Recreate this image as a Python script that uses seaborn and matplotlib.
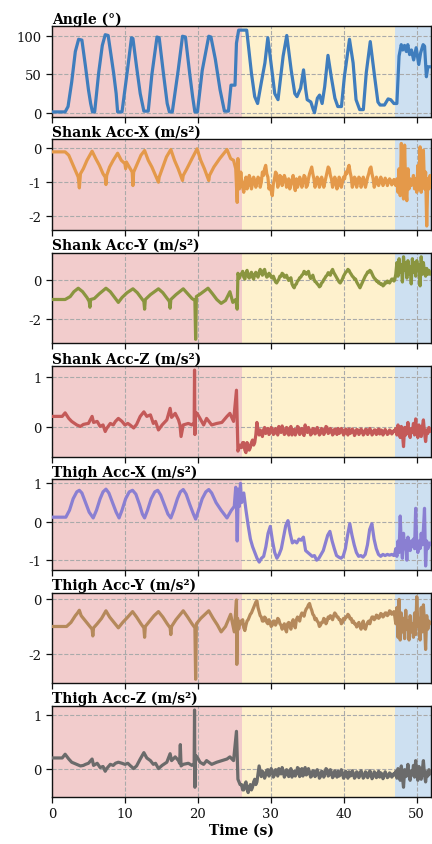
import numpy as np
import pandas as pd
import matplotlib
matplotlib.use("Agg")
import matplotlib.pyplot as plt
import seaborn as sns

# ---------------- data ----------------
titles = ["Angle (°)", "Shank Acc-X (m/s²)", "Shank Acc-Y (m/s²)", "Shank Acc-Z (m/s²)",
          "Thigh Acc-X (m/s²)", "Thigh Acc-Y (m/s²)", "Thigh Acc-Z (m/s²)"]
line_colors = ["#3f7dbd", "#e4994a", "#8a953f", "#c45a59", "#8a7fd2", "#b5895b", "#6b6b6b"]
yticks_list = [[0, 50, 100], [-2, -1, 0], [-2, 0], [0, 1], [-1, 0, 1], [-2, 0], [0, 1]]
phase_bounds = [0, 26, 47, 52]
phase_colors = ["#f2cccc", "#fef1cd", "#cde0f1"]
x_ticks = [0, 10, 20, 30, 40, 50]

angle_t = [0, 1.8, 2.2, 2.7, 3.2, 3.65, 4.1, 4.6, 5.0, 5.3, 5.55, 5.85, 6.4, 6.9, 7.3, 7.7, 8.1, 8.45,
           8.8, 9.0, 9.6, 10.3, 10.9, 11.1, 11.6, 12.1, 12.6, 13.2, 13.7, 14.4, 14.7, 15.3, 15.8, 16.1,
           16.5, 17.3, 17.9, 18.3, 18.9, 19.3, 19.6, 19.95, 20.6, 21.5, 21.8, 22.4, 23.05, 23.65, 24.2,
           24.55, 25.1, 25.3, 25.6, 26.7, 26.9, 27.35, 27.8, 28.2, 28.7, 29.2, 29.6, 30.1, 30.55, 31.0,
           31.7, 32.2, 32.8, 33.3, 33.6, 34.1, 34.5, 34.8, 35.0, 35.5, 35.8, 36.0, 36.4, 36.7, 37.05,
           37.4, 37.85, 38.3, 38.8, 39.2, 39.7, 40.1, 40.8, 41.3, 41.7, 42.2, 42.7, 43.1, 43.65, 44.25,
           44.7, 45.0, 45.6, 46.1, 46.45, 46.9, 47.3, 47.6, 47.9, 48.1, 48.35, 48.6, 48.8, 49.05, 49.3,
           49.6, 49.95, 50.3, 50.55, 50.9, 51.1, 51.35, 51.55, 52.0]
angle_v = [1, 1, 8, 40, 80, 96, 95, 60, 30, 12, 1, 1, 52, 88, 102, 101, 75, 52, 25, 1, 1, 52, 98, 97,
           60, 25, 2, 2, 50, 99, 98, 50, 12, 1, 1, 55, 100, 99, 50, 20, 1, 1, 55, 100, 99, 70, 30, 2, 2,
           36, 36, 91, 108, 108, 91, 52, 21, 12, 39, 65, 98, 60, 25, 17, 74, 101, 56, 25, 21, 32, 56, 30,
           17, 14, 5, 0, 19, 23, 12, 34, 75, 47, 19, 8, 8, 47, 96, 65, 17, 4, 4, 52, 93, 47, 14, 10, 10,
           18, 17, 12, 12, 74, 89, 82, 88, 80, 89, 76, 82, 69, 85, 63, 78, 89, 87, 47, 60, 60]

# Accelerations: walking-phase keypoints (time, value); then evenly spaced samples over
# 26-46.9 s (stairs phase) and 47-52 s (last phase).
sx_walk_t = [0, 1.8, 2.3, 2.8, 3.3, 3.6, 3.75, 3.9, 4.3, 4.8, 5.5, 6.0, 6.5, 7.0, 7.3, 7.4, 7.5, 7.9,
             8.4, 9.0, 9.5, 10.0, 10.1, 10.2, 10.6, 11.0, 11.1, 11.2, 11.7, 12.2, 12.7, 13.2, 13.7,
             14.2, 14.6, 14.7, 15.2, 15.7, 16.3, 16.8, 17.3, 17.9, 18.0, 18.5, 19.2, 19.9, 20.4, 20.9,
             21.5, 21.6, 22.2, 23.0, 24.0, 24.5, 24.9, 25.2, 25.4, 25.5, 25.7, 25.9]
sx_walk_v = [-0.1, -0.1, -0.2, -0.45, -0.7, -0.85, -1.17, -0.75, -0.6, -0.35, -0.08, -0.3, -0.5,
             -0.75, -0.85, -1.07, -0.8, -0.55, -0.35, -0.14, -0.35, -0.45, -0.6, -0.4, -0.55, -0.7,
             -1.1, -0.7, -0.45, -0.2, -0.06, -0.35, -0.55, -0.8, -1.0, -0.85, -0.55, -0.25, -0.03,
             -0.35, -0.6, -0.95, -0.8, -0.6, -0.3, -0.01, -0.35, -0.6, -0.95, -0.8, -0.55, -0.3, -0.03,
             -0.3, -0.35, -0.6, -1.6, -0.3, -1.2, -0.7]
sx_mid_v = [-0.95, -1.15, -1.3, -1.0, -0.85, -1.2, -1.1, -0.8, -0.9, -1.2, -1.05, -0.85, -0.95, -1.15,
            -1.0, -0.85, -0.9, -1.15, -1.0, -0.7, -0.8, -0.6, -0.5, -0.75, -0.85, -1.2, -1.1, -1.25,
            -1.4, -1.05, -0.9, -0.7, -0.75, -1.15, -1.0, -0.8, -0.85, -1.1, -0.95, -0.8, -0.9, -1.15,
            -1.05, -0.9, -1.2, -1.05, -0.95, -0.8, -1.1, -1.25, -0.9, -1.15, -1.05, -0.85, -0.95, -1.15,
            -1.0, -0.8, -0.85, -1.15, -1.1, -0.9, -0.75, -0.65, -0.55, -0.75, -0.9, -1.15, -1.05, -0.85,
            -0.9, -1.15, -1.05, -0.85, -0.95, -1.15, -1.0, -0.85, -0.7, -0.55, -0.6, -0.8, -0.9, -1.15,
            -1.05, -0.85, -0.95, -1.2, -1.1, -0.85, -0.95, -1.15, -1.0, -0.85, -0.9, -0.7, -0.75, -0.6,
            -0.5, -0.7, -0.85, -1.15, -1.05, -0.85, -0.9, -1.15, -1.0, -0.85, -0.9, -1.15, -1.05, -0.85,
            -0.95, -1.15, -1.0, -0.85, -0.75, -0.6, -0.55, -0.75, -0.9, -1.15, -1.05, -0.85, -0.95,
            -1.1, -1.0, -0.85, -0.95, -1.1, -1.0, -0.88, -0.95, -1.1, -1.0, -0.9, -0.95, -1.08, -1.0,
            -0.92]
sx_end_v = [-1.0, -1.1, -0.9, -1.3, -0.6, -1.4, 0.15, -1.0, -1.5, 0.1, -1.2, -1.55, -0.6, -1.2, -0.9,
            -1.1, -1.0, -0.8, -1.2, -0.9, -1.3, -0.5, -1.2, 0.05, -1.3, -0.8, -0.05, -1.2, -0.7, -2.3,
            -0.9, -1.2, -0.8, -1.0]

sy_walk_t = [0, 1.8, 2.5, 3.0, 3.6, 4.2, 4.8, 5.1, 5.2, 5.3, 5.8, 6.5, 7.4, 8.0, 8.6, 9.1, 9.6, 10.3,
             11.1, 11.7, 12.3, 12.6, 12.7, 12.8, 13.5, 14.6, 15.2, 15.8, 16.1, 16.2, 16.3, 17.0, 18.0,
             18.6, 19.2, 19.6, 19.7, 19.8, 20.4, 21.4, 22.0, 22.6, 23.2, 23.8, 24.4, 24.8, 25.2, 25.4,
             25.5, 25.7, 25.9]
sy_walk_v = [-1.0, -1.0, -0.85, -0.6, -0.42, -0.6, -0.9, -1.1, -1.4, -1.0, -0.95, -0.7, -0.42, -0.6,
             -0.9, -1.15, -0.9, -0.65, -0.45, -0.65, -0.95, -1.1, -1.5, -1.0, -0.75, -0.45, -0.65,
             -0.95, -1.1, -1.45, -1.0, -0.75, -0.45, -0.7, -0.95, -1.05, -3.05, -0.85, -0.7, -0.42,
             -0.7, -1.0, -1.2, -1.05, -0.6, -1.15, -1.0, -1.5, 0.35, 0.1, 0.3]
sy_mid_v = [0.3, 0.45, 0.15, 0.05, 0.35, 0.5, 0.2, 0.1, 0.3, 0.4, 0.15, 0.05, 0.3, 0.4, 0.25, 0.15,
            0.4, 0.55, 0.35, 0.25, 0.48, 0.55, 0.3, 0.15, 0.2, 0.35, 0.3, 0.15, 0.1, 0.2, 0.05, -0.1,
            -0.15, -0.05, 0.05, 0.2, 0.2, 0.35, 0.3, 0.15, 0.15, 0.25, 0.1, -0.02, 0.05, 0.12, -0.2,
            -0.32, -0.4, -0.25, -0.2, -0.05, 0.0, 0.12, 0.15, 0.25, 0.3, 0.45, 0.4, 0.3, 0.35, 0.45,
            0.2, 0.08, 0.15, 0.25, 0.05, -0.08, -0.1, -0.2, -0.25, -0.35, -0.3, -0.15, -0.1, 0.02, 0.1,
            0.2, 0.25, 0.38, 0.35, 0.25, 0.45, 0.55, 0.4, 0.3, 0.2, 0.1, 0.0, -0.1, -0.15, -0.05, 0.05,
            0.2, 0.3, 0.4, 0.45, 0.55, 0.5, 0.38, 0.3, 0.2, 0.15, 0.05, 0.05, -0.1, -0.2, -0.3, -0.4,
            -0.28, -0.15, -0.02, 0.1, 0.22, 0.3, 0.42, 0.4, 0.5, 0.45, 0.32, 0.2, 0.1, 0.05, -0.05,
            -0.05, -0.15, -0.15, -0.22, -0.2, -0.3, -0.25, -0.12, -0.15, -0.05, -0.1, -0.15, -0.05,
            0.05, 0.05, -0.05]
sy_end_v = [0.0, 0.3, 0.9, 0.2, 1.1, 0.4, 0.8, -0.1, 1.2, 0.5, 0.9, 0.1, 1.0, 0.3, 0.7, -0.2, 1.1, 0.4,
            0.9, 0.2, 1.0, 0.5, 0.8, -0.3, 1.2, 0.3, 0.9, 0.4, 0.2, 0.6, 0.3, 0.5, 0.3, 0.4]

sz_walk_t = [0, 1.4, 1.8, 2.3, 2.7, 3.4, 3.9, 4.3, 4.6, 5.0, 5.5, 5.7, 6.2, 6.6, 7.0, 7.3, 7.5, 8.0,
             8.4, 8.7, 9.1, 9.6, 10.0, 10.4, 10.7, 11.2, 11.6, 12.1, 12.6, 13.0, 13.5, 13.9, 14.2,
             14.6, 15.1, 15.75, 16.2, 16.4, 16.9, 17.35, 17.55, 17.7, 18.0, 18.7, 19.2, 19.5, 19.55,
             19.6, 19.65, 19.9, 20.3, 20.8, 21.2, 21.9, 22.6, 23.3, 24.0, 24.4, 24.9, 25.3, 25.5, 25.8]
sz_walk_v = [0.22, 0.22, 0.29, 0.18, 0.12, 0.05, 0.02, 0.06, 0.07, 0.08, 0.22, 0.1, 0.12, 0.02, 0.05,
             -0.08, -0.02, 0.08, 0.05, 0.12, 0.18, 0.12, 0.05, 0.08, 0.05, -0.01, 0.06, 0.22, 0.31,
             0.22, 0.25, 0.08, 0.12, -0.05, 0.05, 0.15, 0.38, 0.2, 0.28, 0.15, 0.05, -0.18, 0.05, 0.08,
             0.05, 0.1, 1.14, -0.14, 0.3, 0.28, 0.18, 0.05, 0.18, 0.05, 0.08, 0.1, 0.22, 0.28, 0.12,
             0.74, -0.47, -0.35]
sz_mid_v = [-0.4, -0.3, -0.3, -0.45, -0.5, -0.3, -0.35, -0.45, -0.4, -0.3, -0.25, -0.35, -0.3, -0.15,
            0.1, -0.05, -0.15, -0.05, -0.1, -0.18, -0.05, 0.0, -0.12, -0.05, -0.02, -0.14, -0.1, 0.0,
            -0.03, -0.14, -0.12, -0.02, -0.05, -0.15, 0.02, -0.08, -0.1, 0.03, -0.04, -0.14, -0.12, 0.0,
            -0.02, -0.15, -0.08, 0.02, -0.15, -0.05, -0.04, -0.15, -0.1, 0.02, 0.0, -0.14, -0.08, -0.02,
            -0.12, -0.16, 0.05, -0.06, -0.1, 0.0, -0.05, -0.15, -0.12, -0.02, -0.03, -0.13, -0.1, 0.0,
            -0.06, -0.15, -0.12, -0.02, -0.04, -0.14, -0.09, 0.02, 0.0, -0.12, -0.1, -0.02, -0.05,
            -0.15, -0.12, -0.03, -0.06, -0.14, -0.02, -0.12, -0.1, -0.02, -0.05, -0.15, -0.12, -0.03,
            -0.07, -0.15, -0.03, -0.12, -0.1, -0.03, -0.06, -0.16, -0.12, -0.04, -0.05, -0.14, -0.1,
            -0.03, -0.07, -0.15, -0.12, -0.04, -0.04, -0.14, -0.1, -0.02, -0.07, -0.15, -0.12, -0.05,
            -0.05, -0.14, -0.09, -0.03, -0.13, -0.05, -0.06, -0.15, -0.1, -0.04, -0.08, -0.14, -0.12,
            -0.05, -0.07, -0.13, -0.1, -0.06]
sz_end_v = [-0.08, -0.02, -0.15, 0.05, -0.1, -0.2, 0.02, -0.12, -0.38, 0.0, -0.15, -0.05, 0.1, -0.12,
            -0.2, -0.02, -0.1, 0.08, -0.15, 0.17, -0.05, -0.2, 0.05, -0.1, -0.18, 0.0, 0.15, -0.1,
            -0.28, -0.05, -0.12, 0.0, -0.08, -0.05]

tx_walk_t = [0, 1.9, 2.4, 2.9, 3.4, 3.75, 4.1, 4.6, 5.1, 5.65, 6.1, 6.6, 7.0, 7.4, 7.8, 8.3, 8.8, 9.2,
             9.6, 10.1, 10.6, 11.05, 11.5, 12.0, 12.4, 12.7, 13.1, 13.6, 14.1, 14.5, 14.9, 15.4, 15.9,
             16.3, 16.7, 17.2, 17.6, 18.0, 18.4, 18.9, 19.4, 19.7, 20.1, 20.6, 21.1, 21.5, 21.9, 22.5,
             23.2, 24.0, 24.6, 25.0, 25.2, 25.3, 25.4, 25.55, 25.7, 25.85]
tx_walk_v = [0.12, 0.12, 0.3, 0.6, 0.78, 0.82, 0.75, 0.5, 0.25, 0.1, 0.3, 0.6, 0.78, 0.85, 0.75, 0.5,
             0.25, 0.1, 0.3, 0.6, 0.78, 0.82, 0.72, 0.45, 0.2, 0.1, 0.3, 0.6, 0.78, 0.82, 0.7, 0.45,
             0.2, 0.1, 0.3, 0.6, 0.78, 0.84, 0.72, 0.45, 0.2, 0.07, 0.3, 0.6, 0.78, 0.84, 0.75, 0.5,
             0.3, 0.1, 0.3, 0.4, 0.9, 0.5, -0.5, 0.85, 0.4, 1.0]
tx_mid_v = [0.5, 0.75, 0.3, -0.1, -0.45, -0.65, -0.8, -0.95, -1.05, -0.95, -0.9, -0.65, -0.3, -0.12,
            -0.5, -0.8, -0.95, -0.85, -0.7, -0.4, -0.1, 0.03, -0.3, -0.55, -0.5, -0.55, -0.45, -0.48,
            -0.4, -0.75, -0.8, -0.85, -0.9, -0.88, -1.0, -0.95, -0.85, -0.75, -0.55, -0.35, -0.25,
            -0.5, -0.7, -0.88, -0.92, -0.95, -0.9, -0.7, -0.35, -0.05, -0.35, -0.6, -0.8, -0.9, -0.88,
            -0.92, -0.85, -0.6, -0.2, -0.05, -0.45, -0.7, -0.85, -0.9, -0.85, -0.88, -0.85, -0.87,
            -0.85, -0.88]
tx_end_v = [-0.85, -0.7, -0.9, -0.5, -0.8, 0.15, -0.6, -0.95, -0.3, -0.7, -0.5, -1.0, -0.4, -0.6,
            -0.75, -0.5, -0.65, -0.45, -0.7, 0.35, -0.6, -0.8, -0.5, -0.7, -0.3, -0.6, -0.2, 0.35,
            -1.15, -0.5, -0.7, -0.6, -0.55, -0.6]

ty_walk_t = [0, 2.0, 2.6, 3.2, 3.5, 3.75, 4.0, 4.6, 5.2, 5.5, 5.6, 5.7, 6.2, 6.8, 7.4, 7.9, 8.5, 9.1,
             9.7, 10.4, 11.05, 11.6, 12.2, 12.6, 12.7, 12.8, 13.4, 14.0, 14.6, 15.2, 15.8, 16.2, 16.3,
             16.4, 17.0, 18.0, 18.6, 19.2, 19.6, 19.7, 19.8, 20.4, 21.0, 21.5, 22.1, 22.7, 23.2, 23.8,
             24.5, 25.0, 25.3, 25.35, 25.45, 25.6, 25.85]
ty_walk_v = [-1.0, -1.0, -0.85, -0.6, -0.5, -0.4, -0.6, -0.8, -1.0, -1.1, -1.35, -1.05, -0.9, -0.7,
             -0.42, -0.65, -0.85, -1.05, -0.85, -0.65, -0.45, -0.65, -0.9, -1.05, -1.4, -1.0, -0.8,
             -0.6, -0.45, -0.65, -0.9, -1.05, -1.3, -1.0, -0.75, -0.42, -0.65, -0.9, -1.05, -2.95,
             -0.9, -0.7, -0.55, -0.42, -0.7, -0.95, -1.2, -1.0, -0.55, -1.2, -0.02, -2.4, -0.7, -1.1,
             -0.8]
ty_mid_v = [-0.9, -0.75, -1.05, -1.15, -0.95, -0.8, -0.75, -0.65, -0.55, -0.5, -0.4, -0.3, -0.2, -0.1,
            -0.05, -0.3, -0.45, -0.6, -0.65, -0.8, -0.8, -0.65, -0.7, -0.85, -0.9, -0.75, -0.85, -1.0,
            -0.95, -0.8, -0.8, -0.95, -0.85, -0.7, -0.75, -0.9, -0.95, -1.1, -1.0, -0.9, -1.1, -1.2,
            -0.9, -0.85, -1.0, -1.1, -0.85, -0.75, -0.95, -1.05, -0.75, -0.65, -0.7, -0.8, -0.6, -0.5,
            -0.55, -0.62, -0.45, -0.35, -0.3, -0.2, -0.15, -0.3, -0.4, -0.55, -0.6, -0.75, -0.7, -0.8,
            -0.85, -1.0, -0.95, -0.85, -0.85, -0.7, -0.75, -0.9, -0.8, -0.65, -0.7, -0.6, -0.65, -0.75,
            -0.6, -0.5, -0.55, -0.65, -0.65, -0.75, -0.75, -0.9, -0.85, -0.7, -0.75, -0.65, -0.65,
            -0.55, -0.6, -0.72, -0.7, -0.85, -0.8, -0.9, -0.9, -1.02, -0.95, -0.85, -1.0, -1.1, -0.9,
            -0.8, -1.05, -1.1, -0.95, -0.85, -0.8, -0.9, -0.75, -0.65, -0.65, -0.75, -0.7, -0.58, -0.6,
            -0.7, -0.65, -0.52, -0.55, -0.65, -0.6, -0.5, -0.5, -0.6, -0.55, -0.42, -0.45, -0.55, -0.5,
            -0.45]
ty_end_v = [-0.6, -0.9, -0.3, -1.4, 0.0, -1.5, -0.5, -1.2, -0.7, -1.45, -0.4, -1.1, -0.8, -1.5, -0.6,
            -1.2, -0.9, -1.4, -0.5, -1.3, 0.1, -1.0, -0.7, -1.5, -0.3, -1.2, -0.2, -0.9, -1.85, -0.6,
            -1.1, -0.8, -0.9, -0.85]

tz_walk_t = [0, 1.4, 1.8, 2.3, 2.7, 3.4, 3.9, 4.3, 4.6, 5.0, 5.5, 5.7, 6.2, 6.6, 7.0, 7.3, 7.5, 8.0,
             8.4, 8.7, 9.1, 9.6, 10.0, 10.4, 10.7, 11.2, 11.6, 12.1, 12.6, 13.0, 13.5, 13.9, 14.2,
             14.6, 15.1, 15.75, 16.2, 16.4, 16.9, 17.35, 17.5, 17.6, 17.7, 18.0, 18.7, 19.2, 19.5,
             19.55, 19.6, 19.65, 19.9, 20.3, 20.8, 21.2, 21.9, 22.6, 23.3, 24.0, 24.4, 24.9, 25.3,
             25.5, 25.8]
tz_walk_v = [0.2, 0.2, 0.27, 0.18, 0.12, 0.08, 0.05, 0.06, 0.08, 0.1, 0.18, 0.06, 0.1, 0.02, 0.04,
             -0.05, 0.0, 0.08, 0.06, 0.1, 0.12, 0.1, 0.08, 0.1, 0.06, 0.0, 0.05, 0.18, 0.3, 0.2, 0.15,
             0.08, 0.1, 0.0, 0.06, 0.12, 0.28, 0.15, 0.22, 0.15, 0.1, 0.45, 0.05, 0.08, 0.1, 0.06, 0.1,
             1.1, -0.35, 0.25, 0.22, 0.12, 0.08, 0.15, 0.08, 0.12, 0.15, 0.18, 0.22, 0.15, 0.7, -0.2,
             -0.3]
tz_mid_v = [-0.3, -0.4, -0.4, -0.3, -0.25, -0.38, -0.45, -0.35, -0.3, -0.4, -0.35, -0.25, -0.2, -0.3,
            -0.25, -0.1, 0.05, -0.05, -0.15, -0.05, -0.08, -0.18, -0.12, -0.03, -0.02, -0.14, -0.1,
            0.0, -0.05, -0.16, -0.12, -0.02, -0.03, -0.14, 0.0, -0.08, -0.1, 0.02, -0.05, -0.16, -0.12,
            -0.02, -0.04, -0.15, -0.1, 0.0, -0.16, -0.08, -0.05, -0.14, -0.1, 0.02, 0.0, -0.15, -0.08,
            0.0, -0.14, -0.04, 0.02, -0.12, -0.1, 0.0, -0.06, -0.16, -0.14, -0.04, -0.05, -0.15, -0.12,
            -0.02, -0.08, -0.18, -0.15, -0.05, -0.06, -0.16, -0.1, 0.0, -0.02, -0.14, -0.12, -0.02,
            -0.07, -0.17, -0.14, -0.04, -0.08, -0.16, -0.05, -0.14, -0.12, -0.02, -0.08, -0.18, -0.15,
            -0.05, -0.1, -0.18, -0.06, -0.14, -0.13, -0.04, -0.09, -0.18, -0.15, -0.06, -0.08, -0.17,
            -0.12, -0.04, -0.1, -0.18, -0.15, -0.06, -0.08, -0.17, -0.13, -0.04, -0.1, -0.19, -0.15,
            -0.06, -0.09, -0.17, -0.12, -0.05, -0.16, -0.08, -0.1, -0.19, -0.13, -0.06, -0.11, -0.17,
            -0.15, -0.08, -0.1, -0.16, -0.13, -0.09]
tz_end_v = [-0.12, -0.05, -0.18, 0.0, -0.12, -0.22, 0.05, -0.15, -0.35, -0.02, -0.15, -0.08, 0.08,
            -0.14, -0.22, -0.04, -0.12, 0.06, -0.16, 0.15, -0.06, -0.22, 0.04, -0.12, -0.2, -0.02,
            0.15, -0.12, -0.25, -0.06, -0.14, -0.02, -0.1, -0.07]

MID_SPAN = (26.0, 46.9)
END_SPAN = (47.0, 52.0)


def build(walk_t, walk_v, mid_v, end_v):
    t = list(walk_t) + list(np.linspace(MID_SPAN[0], MID_SPAN[1], len(mid_v))) + \
        list(np.linspace(END_SPAN[0], END_SPAN[1], len(end_v)))
    v = list(walk_v) + list(mid_v) + list(end_v)
    return pd.DataFrame({"Time (s)": t, "value": v})


frames = [
    pd.DataFrame({"Time (s)": angle_t, "value": angle_v}),
    build(sx_walk_t, sx_walk_v, sx_mid_v, sx_end_v),
    build(sy_walk_t, sy_walk_v, sy_mid_v, sy_end_v),
    build(sz_walk_t, sz_walk_v, sz_mid_v, sz_end_v),
    build(tx_walk_t, tx_walk_v, tx_mid_v, tx_end_v),
    build(ty_walk_t, ty_walk_v, ty_mid_v, ty_end_v),
    build(tz_walk_t, tz_walk_v, tz_mid_v, tz_end_v),
]

# ---------------- plot ----------------
sns.set_theme(style="ticks")
plt.rcParams["font.family"] = ["DejaVu Serif"]
plt.rcParams["axes.unicode_minus"] = False
for key in ["text.color", "axes.labelcolor", "xtick.color", "ytick.color"]:
    plt.rcParams[key] = "#111111"

fig, axes = plt.subplots(7, 1, sharex=True, figsize=(4.32, 8.45), dpi=100)
fig.subplots_adjust(left=52 / 432, right=0.998, top=1 - 27 / 845, bottom=1 - 797.7 / 845,
                    hspace=0.248)

for i, ax in enumerate(axes):
    for k in range(3):
        ax.axvspan(phase_bounds[k], phase_bounds[k + 1], color=phase_colors[k], lw=0, zorder=0)
    sns.lineplot(data=frames[i], x="Time (s)", y="value", ax=ax, color=line_colors[i],
                 lw=2.3, estimator=None, sort=False, zorder=3)
    ax.set_title(titles[i], loc="left", fontsize=10, fontweight="bold", pad=2.5, color="black")
    ax.set_yticks(yticks_list[i])
    ax.set_ylabel("")
    ax.set_xlim(0, 52)
    ax.grid(True, ls="--", color="#aaaaaa", lw=0.8, zorder=1)
    ax.tick_params(axis="both", labelsize=9.5, length=4, width=0.9, direction="out")
    for s in ax.spines.values():
        s.set_linewidth(1.0)
        s.set_color("#111111")
        s.set_visible(True)

axes[-1].set_xticks(x_ticks)
axes[-1].set_xlabel("Time (s)", fontsize=10, fontweight="bold", labelpad=2, color="black")
for ax in axes[:-1]:
    ax.set_xlabel("")

fig.savefig("out.png", dpi=100)
